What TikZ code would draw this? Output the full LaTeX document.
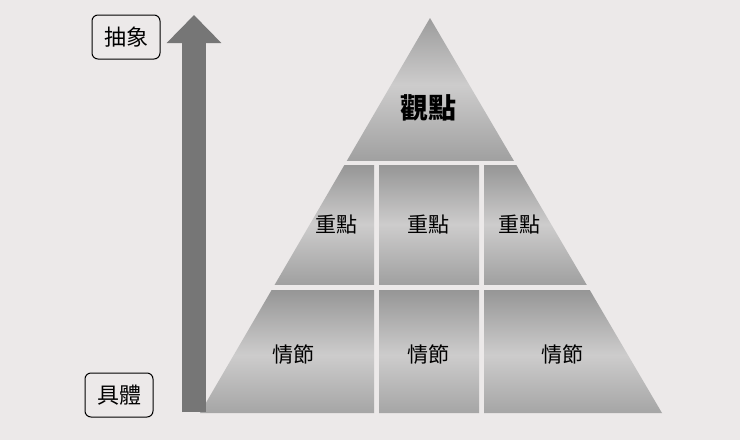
\documentclass[tikz,border=0pt]{standalone}
\usepackage{fontspec}
\setmainfont{Noto Sans CJK TC}
\usepackage{xcolor}
\usepackage{tikz}
\usetikzlibrary{positioning,calc,arrows.meta}

\definecolor{paper}{RGB}{236,233,233}
\definecolor{celldark}{RGB}{150,150,150}
\definecolor{celllight}{RGB}{205,204,204}
\definecolor{shaft}{RGB}{118,118,118}

\tikzset{
    tag/.style={draw, line width=1pt, rounded corners=6pt, minimum width=68pt, minimum height=44pt, font=\fontsize{22}{22}\selectfont},
    lvl/.style={font=\fontsize{21}{21}\selectfont},
    lvltop/.style={font=\fontsize{28}{28}\selectfont\bfseries},
    cell/.style={top color=celldark, bottom color=celldark!90, middle color=celllight},
    axis/.style={shaft, line width=24pt, -{Triangle[width=53pt,length=28pt]}}
}

\begin{document}
\begin{tikzpicture}[x=1pt, y=-1pt]
    % Paper
    \fill[paper] (0,0) rectangle (740,440);
    \useasboundingbox (0,0) rectangle (740,440);

    % Pyramid corners
    \coordinate (apex) at (430,18);
    \coordinate (baseL) at (200,413);
    \coordinate (baseR) at (662,413);

    % Cells, cut out of the pyramid
    \begin{scope}
        \clip (apex) -- (baseL) -- (baseR) -- cycle;
        \shade[cell] (190,10) rectangle (680,160);
        \foreach \xa/\xb in {190/374, 379/479, 484/680} {
            \shade[cell] (\xa,165) rectangle (\xb,284);
            \shade[cell] (\xa,290) rectangle (\xb,420);
        }
    \end{scope}

    % Labels
    \node[lvltop] (view) at (428,108) {觀點};
    \node[lvl] (keyL) at (336,225) {重點};
    \node[lvl] (keyM) at (428,225) {重點};
    \node[lvl] (keyR) at (519,225) {重點};
    \node[lvl] (plotL) at (293,355) {情節};
    \node[lvl] (plotM) at (428,355) {情節};
    \node[lvl] (plotR) at (562,355) {情節};

    % Abstract / concrete scale
    \coordinate (low) at (194,412);
    \coordinate (high) at (194,15);
    \draw[axis] (low) -- (high);

    \node[tag] (abstract) at (126,37) {抽象};
    \node[tag] (concrete) at (119,395) {具體};
\end{tikzpicture}
\end{document}
